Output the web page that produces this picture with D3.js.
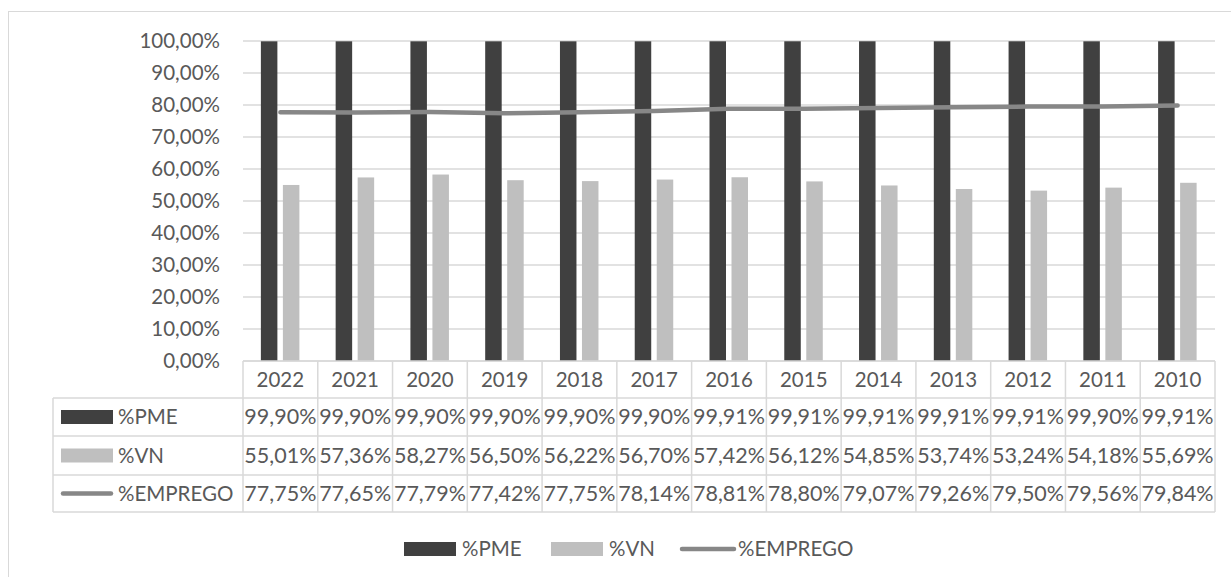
<!DOCTYPE html>
<html><head><meta charset="utf-8">
<script src="https://cdn.jsdelivr.net/npm/d3@7"></script>
<style>body{margin:0;background:#fff}svg{display:block}text{font-family:Lato,"Open Sans",sans-serif;fill:#595959}</style>
</head><body><svg id="c" width="1231" height="577"></svg>
<script>
const years = ["2022","2021","2020","2019","2018","2017","2016","2015","2014","2013","2012","2011","2010"];
const pme = [99.90,99.90,99.90,99.90,99.90,99.90,99.91,99.91,99.91,99.91,99.91,99.90,99.91];
const vn = [55.01,57.36,58.27,56.50,56.22,56.70,57.42,56.12,54.85,53.74,53.24,54.18,55.69];
const emprego = [77.75,77.65,77.79,77.42,77.75,78.14,78.81,78.80,79.07,79.26,79.50,79.56,79.84];
const yTicks = [0,10,20,30,40,50,60,70,80,90,100];
const seriesNames = ["%PME","%VN","%EMPREGO"];

const C_PME="#404040", C_VN="#bfbfbf", C_LINE="#878787", GRID="#d9d9d9";
const fmt = v => v.toFixed(2).replace(".", ",") + "%";
const svg = d3.select("#c");
const L=243, R=1215, T=41, B=361;
const x = d3.scaleBand().domain(years).range([L,R]);
const y = d3.scaleLinear().domain([0,100]).range([B,T]);
const FS = 20.5;

// outer frame
svg.append("rect").attr("x",8.5).attr("y",11.5).attr("width",1240).attr("height",600).attr("fill","none").attr("stroke",GRID);

// gridlines
svg.append("g").selectAll("line").data(yTicks).join("line")
  .attr("x1",L).attr("x2",R).attr("y1",d=>y(d)).attr("y2",d=>y(d))
  .attr("stroke",GRID).attr("stroke-width",1.3);
// y labels
svg.append("g").selectAll("text").data(yTicks).join("text")
  .attr("x",220).attr("y",d=>y(d)).attr("dy","0.35em").attr("text-anchor","end")
  .attr("font-size",FS).text(d=>fmt(d));

const bw = 16.5, cx = d => x(d)+x.bandwidth()/2;
svg.append("g").selectAll("rect").data(years).join("rect")
  .attr("x",d=>cx(d)-19.5).attr("width",bw)
  .attr("y",(d,i)=>y(pme[i])).attr("height",(d,i)=>B-y(pme[i])).attr("fill",C_PME);
svg.append("g").selectAll("rect").data(years).join("rect")
  .attr("x",d=>cx(d)+2.5).attr("width",bw)
  .attr("y",(d,i)=>y(vn[i])).attr("height",(d,i)=>B-y(vn[i])).attr("fill",C_VN);
svg.append("path").datum(years)
  .attr("d",d3.line().x(d=>cx(d)).y((d,i)=>y(emprego[i])))
  .attr("fill","none").attr("stroke",C_LINE).attr("stroke-width",4.5).attr("stroke-linecap","round");

// data table
const rowY = [361,398,436,475,512];
const TL = 53;
const tg = svg.append("g").attr("stroke",GRID).attr("stroke-width",1.5);
tg.append("line").attr("x1",L).attr("x2",R).attr("y1",rowY[0]).attr("y2",rowY[0]);
for (let r=1;r<rowY.length;r++) tg.append("line").attr("x1",TL).attr("x2",R).attr("y1",rowY[r]).attr("y2",rowY[r]);
tg.append("line").attr("x1",TL).attr("x2",TL).attr("y1",rowY[1]).attr("y2",rowY[4]);
years.forEach(yr=>{tg.append("line").attr("x1",x(yr)).attr("x2",x(yr)).attr("y1",rowY[0]).attr("y2",rowY[4]);});
tg.append("line").attr("x1",R).attr("x2",R).attr("y1",rowY[0]).attr("y2",rowY[4]);

svg.append("g").selectAll("text").data(years).join("text")
  .attr("x",d=>cx(d)).attr("y",(rowY[0]+rowY[1])/2).attr("dy","0.35em").attr("text-anchor","middle")
  .attr("font-size",FS).text(d=>d);
[pme,vn,emprego].forEach((arr,r)=>{
  svg.append("g").selectAll("text").data(arr).join("text")
    .attr("x",(d,i)=>cx(years[i])).attr("y",(rowY[r+1]+rowY[r+2])/2).attr("dy","0.35em")
    .attr("text-anchor","middle").attr("font-size",FS).attr("textLength",72).attr("lengthAdjust","spacingAndGlyphs")
    .text(d=>fmt(d));
});
// table legend keys
function key(g, i, x0, yc, w) {
  if (i<2) g.append("rect").attr("x",x0).attr("y",yc-7).attr("width",w).attr("height",14).attr("fill",i===0?C_PME:C_VN);
  else g.append("line").attr("x1",x0+2).attr("x2",x0+w-2).attr("y1",yc).attr("y2",yc).attr("stroke",C_LINE).attr("stroke-width",4.5).attr("stroke-linecap","round");
}
seriesNames.forEach((n,i)=>{
  const yc=(rowY[i+1]+rowY[i+2])/2;
  key(svg,i,61,yc,52);
  svg.append("text").attr("x",118).attr("y",yc).attr("dy","0.35em").attr("font-size",FS).text(n);
});
// bottom legend
const legX=[404,551,680];
seriesNames.forEach((n,i)=>{
  const w = i<2?52:56;
  key(svg,i,legX[i],549,w);
  svg.append("text").attr("x",legX[i]+w+(i<2?6:2)).attr("y",549).attr("dy","0.35em").attr("font-size",FS).text(n);
});
</script></body></html>
